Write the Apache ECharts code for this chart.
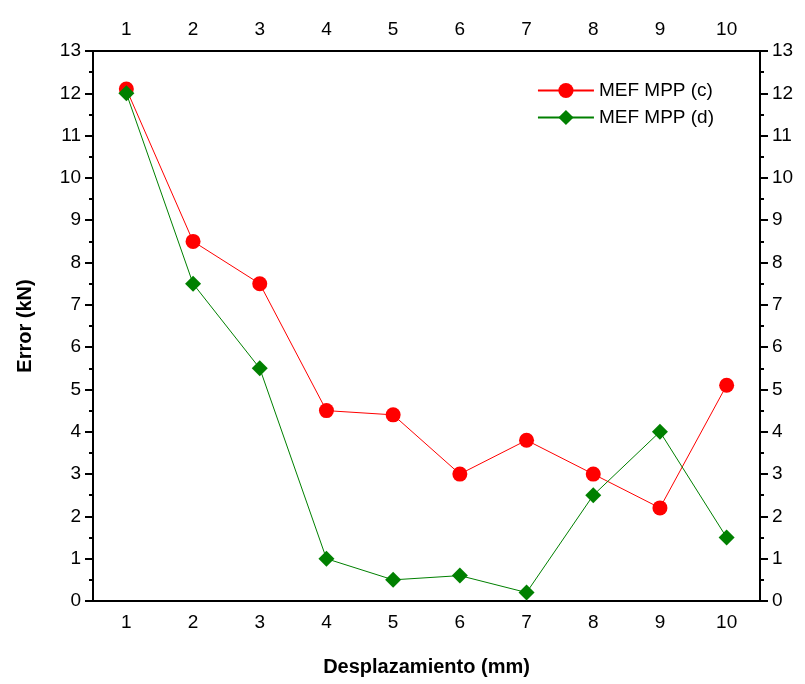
<!DOCTYPE html>
<html>
<head>
<meta charset="utf-8">
<script src="https://cdn.jsdelivr.net/npm/echarts@6/dist/echarts.min.js"></script>
<style>
  html, body { margin: 0; padding: 0; background: #fff; }
  #chart { width: 805px; height: 684px; }
</style>
</head>
<body>
<div id="chart"></div>
<script>
const categories = ["1", "2", "3", "4", "5", "6", "7", "8", "9", "10"];
const mppC = [12.1, 8.5, 7.5, 4.5, 4.4, 3.0, 3.8, 3.0, 2.2, 5.1];
const mppD = [12.0, 7.5, 5.5, 1.0, 0.5, 0.6, 0.2, 2.5, 4.0, 1.5];
const yTicks = { min: 0, max: 13, interval: 1 };

const font = "'Liberation Sans', Arial, sans-serif";
const axisLine = { show: true, lineStyle: { color: "#000", width: 2 } };
const labelStyle = { color: "#000", fontSize: 19, fontFamily: font };

// one axis carries the labels and major ticks, a second one the minor ticks between categories
function xAxes(position, withName) {
  return [
    {
      type: "category",
      position: position,
      data: categories,
      boundaryGap: true,
      axisLine: axisLine,
      axisTick: { alignWithLabel: true, length: 8, lineStyle: { color: "#000", width: 2 } },
      axisLabel: Object.assign({ margin: 12 }, labelStyle),
      splitLine: { show: false },
      name: withName ? "Desplazamiento (mm)" : "",
      nameLocation: "middle",
      nameGap: 56,
      nameTextStyle: { color: "#000", fontSize: 20, fontWeight: "bold", fontFamily: font }
    },
    {
      type: "category",
      position: position,
      data: categories,
      boundaryGap: true,
      axisLine: { show: false },
      axisTick: { alignWithLabel: false, length: 4, lineStyle: { color: "#000", width: 2 } },
      axisLabel: { show: false },
      splitLine: { show: false }
    }
  ];
}

function yAxis(position, withName) {
  return {
    type: "value",
    position: position,
    min: yTicks.min,
    max: yTicks.max,
    interval: yTicks.interval,
    axisLine: axisLine,
    axisTick: { show: true, length: 8, lineStyle: { color: "#000", width: 2 } },
    minorTick: { show: true, splitNumber: 2, length: 4, lineStyle: { color: "#000", width: 2 } },
    axisLabel: Object.assign({ margin: 12 }, labelStyle),
    splitLine: { show: false },
    name: withName ? "Error (kN)" : "",
    nameLocation: "middle",
    nameGap: 58,
    nameTextStyle: { color: "#000", fontSize: 20, fontWeight: "bold", fontFamily: font }
  };
}

const chart = echarts.init(document.getElementById("chart"));
chart.setOption({
  backgroundColor: "#fff",
  animation: false,
  grid: { left: 93, right: 45, top: 51, bottom: 83 },
  legend: {
    right: 86,
    top: 76,
    orient: "vertical",
    itemWidth: 56,
    itemHeight: 19,
    itemGap: 8,
    textStyle: { color: "#000", fontSize: 19, fontFamily: font },
    data: ["MEF MPP (c)", "MEF MPP (d)"]
  },
  xAxis: xAxes("bottom", true).concat(xAxes("top", false)),
  yAxis: [yAxis("left", true), yAxis("right", false)],
  series: [
    {
      name: "MEF MPP (c)",
      type: "line",
      data: mppC,
      symbol: "circle",
      symbolSize: 15,
      lineStyle: { color: "#ff0000", width: 1 },
      itemStyle: { color: "#ff0000" }
    },
    {
      name: "MEF MPP (d)",
      type: "line",
      data: mppD,
      symbol: "diamond",
      symbolSize: 16,
      lineStyle: { color: "#008000", width: 1 },
      itemStyle: { color: "#008000" }
    }
  ]
});
</script>
</body>
</html>
